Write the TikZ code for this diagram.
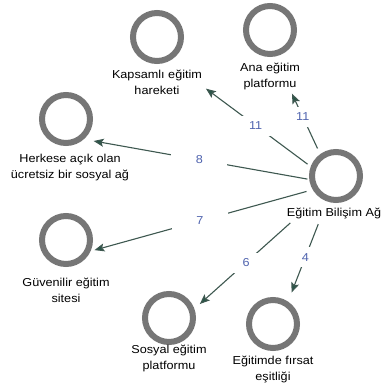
\documentclass[tikz,border=0pt]{standalone}
\usepackage{fontspec}
\setmainfont{Liberation Sans}[FakeStretch=1.1]
\usetikzlibrary{arrows.meta,fit}
\definecolor{ringgray}{RGB}{118,118,118}
\definecolor{edgecol}{RGB}{62,88,80}
\definecolor{arrowcol}{RGB}{40,85,72}
\definecolor{numblue}{RGB}{80,100,175}
\begin{document}
\begin{tikzpicture}[x=1pt,y=-1pt,
  ring/.style={circle,draw=ringgray,line width=6pt,minimum size=48pt,inner sep=0pt},
  lbl/.style={align=center,inner sep=0pt,font=\fontsize{11.5}{16}\selectfont},
  grp/.style={inner sep=0pt},
  link/.style={draw=edgecol,line width=1.1pt,-{Stealth[length=10pt,width=8pt,inset=2pt,fill=arrowcol]}},
  num/.style={fill=white,text=numblue,minimum width=56pt,minimum height=20pt,inner sep=0pt,font=\fontsize{11.5}{14}\selectfont}]
\useasboundingbox (0,0) rectangle (384,385);
\fill[white] (0,0) rectangle (384,385);
% source
\node[ring] (srcC) at (336,176) {};
\node[lbl] (srcL) at (334,213) {Eğitim Bilişim Ağ};
\node[grp,fit=(srcC)(srcL)] (src) {};
% targets
\node[ring] (kapC) at (157,37) {};
\node[lbl] (kapL) at (157,82) {Kapsamlı eğitim\\hareketi};
\node[grp,fit=(kapC)(kapL)] (kap) {};
\node[ring] (anaC) at (270,30) {};
\node[lbl] (anaL) at (270,76.5) {Ana eğitim\\platformu};
\node[grp,fit=(anaC)(anaL)] (ana) {};
\node[ring] (herC) at (66,119) {};
\node[lbl] (herL) at (70,168) {Herkese açık olan\\ücretsiz bir sosyal ağ};
\node[grp,fit=(herC)(herL)] (her) {};
\node[ring] (guvC) at (66,240) {};
\node[lbl] (guvL) at (66,290.5) {Güvenilir eğitim\\sitesi};
\node[grp,fit=(guvC)(guvL)] (guv) {};
\node[ring] (sosC) at (169,318) {};
\node[lbl] (sosL) at (169,358.5) {Sosyal eğitim\\platformu};
\node[grp,fit=(sosC)(sosL)] (sos) {};
\node[ring] (esiC) at (273,324) {};
\node[lbl] (esiL) at (273,369.5) {Eğitimde fırsat\\eşitliği};
\node[grp,fit=(esiC)(esiL)] (esi) {};
% connectors
\draw[link,shorten <=33pt,shorten >=61pt] (src.center) -- node[num,pos=.443]{11} (kap.center);
\draw[link,shorten <=39pt,shorten >=52pt] (src.center) -- node[num,pos=.488]{11} (ana.center);
\draw[link,shorten <=27pt,shorten >=24pt] (src.center) -- node[num,pos=.51]{8} (her.center);
\draw[link,shorten <=28.5pt,shorten >=29.5pt] (src.center) -- node[num,pos=.50]{7} (guv.center);
\draw[link,shorten <=58.7pt,shorten >=41.3pt] (src.center) -- node[num,pos=.533]{6} (sos.center);
\draw[link,shorten <=43.3pt,shorten >=51pt] (src.center) -- node[num,pos=.469]{4} (esi.center);
\end{tikzpicture}
\end{document}
